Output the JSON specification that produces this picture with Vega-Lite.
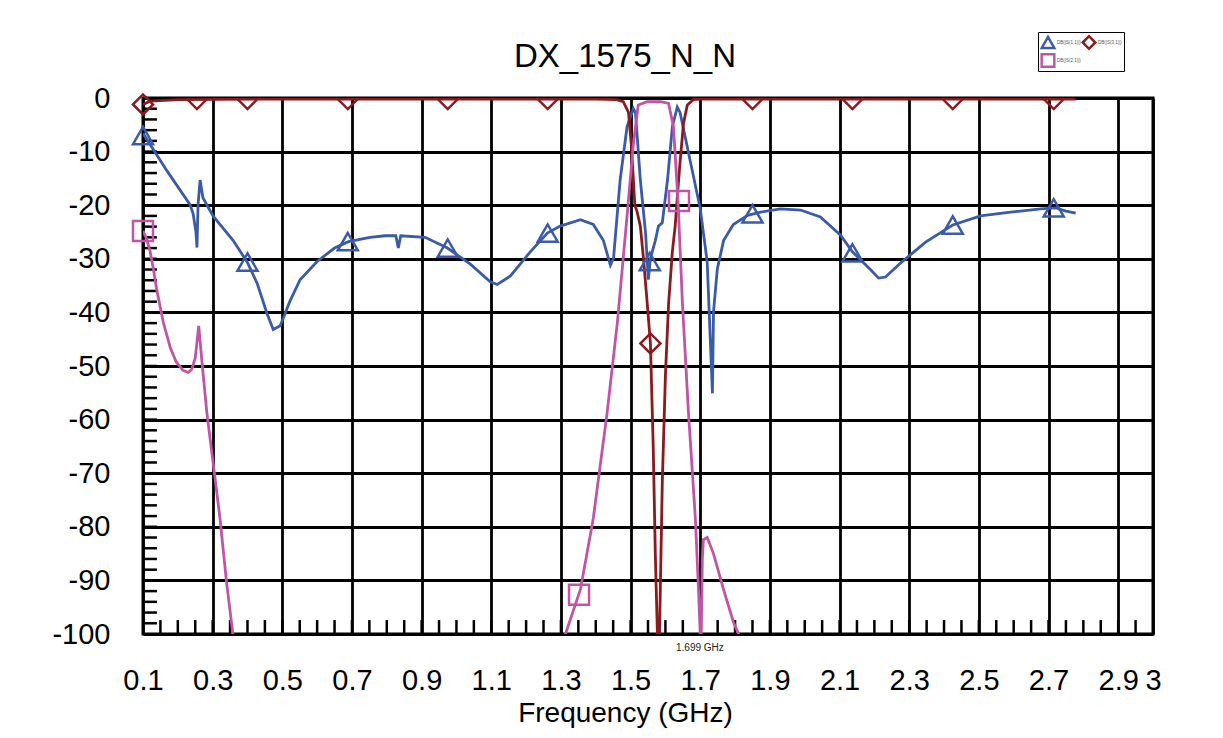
{
  "$schema": "https://vega.github.io/schema/vega-lite/v6.json",
  "autosize": {"type": "none"},
  "padding": {"left": 143, "top": 98, "right": 70, "bottom": 104},
  "width": 1010,
  "height": 536,
  "background": "white",
  "config": {
    "font": "Liberation Sans",
    "view": {"stroke": "black", "strokeWidth": 3},
    "legend": {
      "orient": "none", "legendX": 895, "legendY": -66,
      "columns": 2, "title": null, "direction": "horizontal",
      "symbolSize": 160, "symbolStrokeWidth": 2.5, "symbolFillColor": "transparent",
      "labelFontSize": 4.5, "labelColor": "#555555", "labelLineHeight": 5,
      "labelExpr": "[datum.label, 'Combine']",
      "padding": 2, "fillColor": "white", "strokeColor": "black", "strokeWidth": 1,
      "columnPadding": 0, "rowPadding": 1, "labelOffset": 1, "clipHeight": 17
    }
  },
  "title": {
    "text": "DX_1575_N_N",
    "fontSize": 33,
    "fontWeight": "normal",
    "font": "Liberation Sans",
    "color": "black",
    "anchor": "middle",
    "dx": -23,
    "offset": -42
  },
  "datasets": {
    "curves": [
      {"s": "DB(|S(1,1)|)", "f": 0.1, "db": -6.6},
      {"s": "DB(|S(1,1)|)", "f": 0.169, "db": -13.6},
      {"s": "DB(|S(1,1)|)", "f": 0.235, "db": -19.9},
      {"s": "DB(|S(1,1)|)", "f": 0.244, "db": -21.6},
      {"s": "DB(|S(1,1)|)", "f": 0.252, "db": -25},
      {"s": "DB(|S(1,1)|)", "f": 0.255, "db": -27.9},
      {"s": "DB(|S(1,1)|)", "f": 0.258, "db": -20},
      {"s": "DB(|S(1,1)|)", "f": 0.264, "db": -15.3},
      {"s": "DB(|S(1,1)|)", "f": 0.272, "db": -18.6},
      {"s": "DB(|S(1,1)|)", "f": 0.301, "db": -22},
      {"s": "DB(|S(1,1)|)", "f": 0.359, "db": -26.6},
      {"s": "DB(|S(1,1)|)", "f": 0.399, "db": -30.6},
      {"s": "DB(|S(1,1)|)", "f": 0.428, "db": -34.6},
      {"s": "DB(|S(1,1)|)", "f": 0.456, "db": -40.2},
      {"s": "DB(|S(1,1)|)", "f": 0.474, "db": -43.2},
      {"s": "DB(|S(1,1)|)", "f": 0.494, "db": -42.5},
      {"s": "DB(|S(1,1)|)", "f": 0.522, "db": -37.9},
      {"s": "DB(|S(1,1)|)", "f": 0.551, "db": -33.9},
      {"s": "DB(|S(1,1)|)", "f": 0.6, "db": -30.5},
      {"s": "DB(|S(1,1)|)", "f": 0.65, "db": -28},
      {"s": "DB(|S(1,1)|)", "f": 0.69, "db": -26.8},
      {"s": "DB(|S(1,1)|)", "f": 0.752, "db": -26},
      {"s": "DB(|S(1,1)|)", "f": 0.795, "db": -25.7},
      {"s": "DB(|S(1,1)|)", "f": 0.826, "db": -25.7},
      {"s": "DB(|S(1,1)|)", "f": 0.833, "db": -28},
      {"s": "DB(|S(1,1)|)", "f": 0.84, "db": -25.7},
      {"s": "DB(|S(1,1)|)", "f": 0.91, "db": -26},
      {"s": "DB(|S(1,1)|)", "f": 0.974, "db": -28},
      {"s": "DB(|S(1,1)|)", "f": 1.04, "db": -31},
      {"s": "DB(|S(1,1)|)", "f": 1.097, "db": -34.3},
      {"s": "DB(|S(1,1)|)", "f": 1.117, "db": -34.8},
      {"s": "DB(|S(1,1)|)", "f": 1.155, "db": -33.2},
      {"s": "DB(|S(1,1)|)", "f": 1.212, "db": -28.7},
      {"s": "DB(|S(1,1)|)", "f": 1.261, "db": -25.2},
      {"s": "DB(|S(1,1)|)", "f": 1.298, "db": -23.9},
      {"s": "DB(|S(1,1)|)", "f": 1.356, "db": -22.7},
      {"s": "DB(|S(1,1)|)", "f": 1.393, "db": -23.6},
      {"s": "DB(|S(1,1)|)", "f": 1.422, "db": -26.6},
      {"s": "DB(|S(1,1)|)", "f": 1.442, "db": -31.2},
      {"s": "DB(|S(1,1)|)", "f": 1.451, "db": -29.9},
      {"s": "DB(|S(1,1)|)", "f": 1.47, "db": -15.3},
      {"s": "DB(|S(1,1)|)", "f": 1.49, "db": -5.3},
      {"s": "DB(|S(1,1)|)", "f": 1.508, "db": -2},
      {"s": "DB(|S(1,1)|)", "f": 1.514, "db": -2.7},
      {"s": "DB(|S(1,1)|)", "f": 1.528, "db": -15.3},
      {"s": "DB(|S(1,1)|)", "f": 1.543, "db": -25.2},
      {"s": "DB(|S(1,1)|)", "f": 1.551, "db": -33.9},
      {"s": "DB(|S(1,1)|)", "f": 1.557, "db": -29.9},
      {"s": "DB(|S(1,1)|)", "f": 1.571, "db": -26.6},
      {"s": "DB(|S(1,1)|)", "f": 1.58, "db": -23.9},
      {"s": "DB(|S(1,1)|)", "f": 1.591, "db": -23.3},
      {"s": "DB(|S(1,1)|)", "f": 1.606, "db": -15.3},
      {"s": "DB(|S(1,1)|)", "f": 1.62, "db": -5.3},
      {"s": "DB(|S(1,1)|)", "f": 1.634, "db": -1.7},
      {"s": "DB(|S(1,1)|)", "f": 1.642, "db": -2.7},
      {"s": "DB(|S(1,1)|)", "f": 1.672, "db": -12},
      {"s": "DB(|S(1,1)|)", "f": 1.7, "db": -20.6},
      {"s": "DB(|S(1,1)|)", "f": 1.72, "db": -30.6},
      {"s": "DB(|S(1,1)|)", "f": 1.735, "db": -55.1},
      {"s": "DB(|S(1,1)|)", "f": 1.738, "db": -40},
      {"s": "DB(|S(1,1)|)", "f": 1.749, "db": -31.9},
      {"s": "DB(|S(1,1)|)", "f": 1.767, "db": -26.6},
      {"s": "DB(|S(1,1)|)", "f": 1.795, "db": -23.6},
      {"s": "DB(|S(1,1)|)", "f": 1.836, "db": -21.9},
      {"s": "DB(|S(1,1)|)", "f": 1.873, "db": -21.3},
      {"s": "DB(|S(1,1)|)", "f": 1.93, "db": -20.7},
      {"s": "DB(|S(1,1)|)", "f": 1.988, "db": -20.9},
      {"s": "DB(|S(1,1)|)", "f": 2.045, "db": -22.2},
      {"s": "DB(|S(1,1)|)", "f": 2.103, "db": -25.6},
      {"s": "DB(|S(1,1)|)", "f": 2.137, "db": -28.7},
      {"s": "DB(|S(1,1)|)", "f": 2.19, "db": -32.1},
      {"s": "DB(|S(1,1)|)", "f": 2.212, "db": -33.6},
      {"s": "DB(|S(1,1)|)", "f": 2.232, "db": -33.4},
      {"s": "DB(|S(1,1)|)", "f": 2.275, "db": -30.8},
      {"s": "DB(|S(1,1)|)", "f": 2.347, "db": -26.9},
      {"s": "DB(|S(1,1)|)", "f": 2.425, "db": -23.7},
      {"s": "DB(|S(1,1)|)", "f": 2.505, "db": -22},
      {"s": "DB(|S(1,1)|)", "f": 2.591, "db": -21.3},
      {"s": "DB(|S(1,1)|)", "f": 2.678, "db": -20.7},
      {"s": "DB(|S(1,1)|)", "f": 2.721, "db": -20.5},
      {"s": "DB(|S(1,1)|)", "f": 2.75, "db": -21.1},
      {"s": "DB(|S(1,1)|)", "f": 2.778, "db": -21.5},

      {"s": "DB(|S(3,1)|)", "f": 0.1, "db": -1.2},
      {"s": "DB(|S(3,1)|)", "f": 0.12, "db": -0.6},
      {"s": "DB(|S(3,1)|)", "f": 0.2, "db": -0.3},
      {"s": "DB(|S(3,1)|)", "f": 0.5, "db": -0.2},
      {"s": "DB(|S(3,1)|)", "f": 1.0, "db": -0.2},
      {"s": "DB(|S(3,1)|)", "f": 1.4, "db": -0.2},
      {"s": "DB(|S(3,1)|)", "f": 1.46, "db": -0.3},
      {"s": "DB(|S(3,1)|)", "f": 1.479, "db": -0.7},
      {"s": "DB(|S(3,1)|)", "f": 1.494, "db": -2.7},
      {"s": "DB(|S(3,1)|)", "f": 1.502, "db": -8.6},
      {"s": "DB(|S(3,1)|)", "f": 1.508, "db": -15.3},
      {"s": "DB(|S(3,1)|)", "f": 1.512, "db": -19.9},
      {"s": "DB(|S(3,1)|)", "f": 1.519, "db": -21.3},
      {"s": "DB(|S(3,1)|)", "f": 1.528, "db": -23.9},
      {"s": "DB(|S(3,1)|)", "f": 1.537, "db": -29.9},
      {"s": "DB(|S(3,1)|)", "f": 1.548, "db": -38.5},
      {"s": "DB(|S(3,1)|)", "f": 1.557, "db": -45.8},
      {"s": "DB(|S(3,1)|)", "f": 1.565, "db": -65.1},
      {"s": "DB(|S(3,1)|)", "f": 1.571, "db": -85},
      {"s": "DB(|S(3,1)|)", "f": 1.577, "db": -100},
      {"s": "DB(|S(3,1)|)", "f": 1.58, "db": -130},
      {"s": "DB(|S(3,1)|)", "f": 1.583, "db": -100},
      {"s": "DB(|S(3,1)|)", "f": 1.591, "db": -71.8},
      {"s": "DB(|S(3,1)|)", "f": 1.6, "db": -51.8},
      {"s": "DB(|S(3,1)|)", "f": 1.609, "db": -38.5},
      {"s": "DB(|S(3,1)|)", "f": 1.62, "db": -28.6},
      {"s": "DB(|S(3,1)|)", "f": 1.628, "db": -23.9},
      {"s": "DB(|S(3,1)|)", "f": 1.634, "db": -18.6},
      {"s": "DB(|S(3,1)|)", "f": 1.642, "db": -12},
      {"s": "DB(|S(3,1)|)", "f": 1.652, "db": -4.7},
      {"s": "DB(|S(3,1)|)", "f": 1.663, "db": -1.3},
      {"s": "DB(|S(3,1)|)", "f": 1.68, "db": -0.3},
      {"s": "DB(|S(3,1)|)", "f": 1.7, "db": -0.2},
      {"s": "DB(|S(3,1)|)", "f": 2.0, "db": -0.2},
      {"s": "DB(|S(3,1)|)", "f": 2.778, "db": -0.2},

      {"s": "DB(|S(2,1)|)", "f": 0.1, "db": -24.8},
      {"s": "DB(|S(2,1)|)", "f": 0.11, "db": -26.2},
      {"s": "DB(|S(2,1)|)", "f": 0.12, "db": -28.5},
      {"s": "DB(|S(2,1)|)", "f": 0.13, "db": -32},
      {"s": "DB(|S(2,1)|)", "f": 0.139, "db": -35.6},
      {"s": "DB(|S(2,1)|)", "f": 0.158, "db": -41.8},
      {"s": "DB(|S(2,1)|)", "f": 0.178, "db": -46.5},
      {"s": "DB(|S(2,1)|)", "f": 0.195, "db": -49.2},
      {"s": "DB(|S(2,1)|)", "f": 0.215, "db": -50.8},
      {"s": "DB(|S(2,1)|)", "f": 0.23, "db": -51.2},
      {"s": "DB(|S(2,1)|)", "f": 0.24, "db": -50.6},
      {"s": "DB(|S(2,1)|)", "f": 0.25, "db": -48.5},
      {"s": "DB(|S(2,1)|)", "f": 0.26, "db": -42.5},
      {"s": "DB(|S(2,1)|)", "f": 0.269, "db": -49},
      {"s": "DB(|S(2,1)|)", "f": 0.283, "db": -58.5},
      {"s": "DB(|S(2,1)|)", "f": 0.302, "db": -68.4},
      {"s": "DB(|S(2,1)|)", "f": 0.321, "db": -78.4},
      {"s": "DB(|S(2,1)|)", "f": 0.34, "db": -90.4},
      {"s": "DB(|S(2,1)|)", "f": 0.358, "db": -100},
      {"s": "DB(|S(2,1)|)", "f": 0.4, "db": -125},
      {"s": "DB(|S(2,1)|)", "f": 0.8, "db": -160},
      {"s": "DB(|S(2,1)|)", "f": 1.28, "db": -125},
      {"s": "DB(|S(2,1)|)", "f": 1.313, "db": -100},
      {"s": "DB(|S(2,1)|)", "f": 1.356, "db": -91.7},
      {"s": "DB(|S(2,1)|)", "f": 1.393, "db": -78.4},
      {"s": "DB(|S(2,1)|)", "f": 1.433, "db": -58.5},
      {"s": "DB(|S(2,1)|)", "f": 1.462, "db": -41.9},
      {"s": "DB(|S(2,1)|)", "f": 1.49, "db": -21.9},
      {"s": "DB(|S(2,1)|)", "f": 1.508, "db": -8.6},
      {"s": "DB(|S(2,1)|)", "f": 1.522, "db": -1.3},
      {"s": "DB(|S(2,1)|)", "f": 1.548, "db": -0.7},
      {"s": "DB(|S(2,1)|)", "f": 1.586, "db": -0.7},
      {"s": "DB(|S(2,1)|)", "f": 1.609, "db": -1},
      {"s": "DB(|S(2,1)|)", "f": 1.623, "db": -5.3},
      {"s": "DB(|S(2,1)|)", "f": 1.636, "db": -19},
      {"s": "DB(|S(2,1)|)", "f": 1.649, "db": -38.5},
      {"s": "DB(|S(2,1)|)", "f": 1.666, "db": -58.5},
      {"s": "DB(|S(2,1)|)", "f": 1.686, "db": -78.4},
      {"s": "DB(|S(2,1)|)", "f": 1.695, "db": -91.7},
      {"s": "DB(|S(2,1)|)", "f": 1.7, "db": -100},
      {"s": "DB(|S(2,1)|)", "f": 1.702, "db": -104},
      {"s": "DB(|S(2,1)|)", "f": 1.706, "db": -86},
      {"s": "DB(|S(2,1)|)", "f": 1.709, "db": -82.4},
      {"s": "DB(|S(2,1)|)", "f": 1.72, "db": -82},
      {"s": "DB(|S(2,1)|)", "f": 1.738, "db": -85},
      {"s": "DB(|S(2,1)|)", "f": 1.767, "db": -91.7},
      {"s": "DB(|S(2,1)|)", "f": 1.795, "db": -97.7},
      {"s": "DB(|S(2,1)|)", "f": 1.81, "db": -100},
      {"s": "DB(|S(2,1)|)", "f": 1.85, "db": -115},
      {"s": "DB(|S(2,1)|)", "f": 2.3, "db": -150},
      {"s": "DB(|S(2,1)|)", "f": 2.778, "db": -150}
    ],
    "markers": [
      {"s": "DB(|S(1,1)|)", "f": 0.1, "db": -7},
      {"s": "DB(|S(1,1)|)", "f": 0.4, "db": -30.6},
      {"s": "DB(|S(1,1)|)", "f": 0.688, "db": -26.8},
      {"s": "DB(|S(1,1)|)", "f": 0.975, "db": -28},
      {"s": "DB(|S(1,1)|)", "f": 1.262, "db": -25.2},
      {"s": "DB(|S(1,1)|)", "f": 1.555, "db": -30.5},
      {"s": "DB(|S(1,1)|)", "f": 1.85, "db": -21.6},
      {"s": "DB(|S(1,1)|)", "f": 2.137, "db": -28.9},
      {"s": "DB(|S(1,1)|)", "f": 2.425, "db": -23.7},
      {"s": "DB(|S(1,1)|)", "f": 2.715, "db": -20.5},
      {"s": "DB(|S(3,1)|)", "f": 0.1, "db": -1.2},
      {"s": "DB(|S(3,1)|)", "f": 0.255, "db": -0.2},
      {"s": "DB(|S(3,1)|)", "f": 0.4, "db": -0.2},
      {"s": "DB(|S(3,1)|)", "f": 0.688, "db": -0.2},
      {"s": "DB(|S(3,1)|)", "f": 0.975, "db": -0.2},
      {"s": "DB(|S(3,1)|)", "f": 1.262, "db": -0.2},
      {"s": "DB(|S(3,1)|)", "f": 1.557, "db": -45.8},
      {"s": "DB(|S(3,1)|)", "f": 1.85, "db": -0.2},
      {"s": "DB(|S(3,1)|)", "f": 2.137, "db": -0.2},
      {"s": "DB(|S(3,1)|)", "f": 2.425, "db": -0.2},
      {"s": "DB(|S(3,1)|)", "f": 2.715, "db": -0.2},
      {"s": "DB(|S(2,1)|)", "f": 0.1, "db": -24.8},
      {"s": "DB(|S(2,1)|)", "f": 1.352, "db": -92.7},
      {"s": "DB(|S(2,1)|)", "f": 1.639, "db": -19.2}
    ],
    "xminor": [
      {"f": 0.15}, {"f": 0.2}, {"f": 0.25}, {"f": 0.3}, {"f": 0.35}, {"f": 0.4}, {"f": 0.45}, {"f": 0.5},
      {"f": 0.55}, {"f": 0.6}, {"f": 0.65}, {"f": 0.7}, {"f": 0.75}, {"f": 0.8}, {"f": 0.85}, {"f": 0.9},
      {"f": 0.95}, {"f": 1.0}, {"f": 1.05}, {"f": 1.1}, {"f": 1.15}, {"f": 1.2}, {"f": 1.25}, {"f": 1.3},
      {"f": 1.35}, {"f": 1.4}, {"f": 1.45}, {"f": 1.5}, {"f": 1.55}, {"f": 1.6}, {"f": 1.65}, {"f": 1.7},
      {"f": 1.75}, {"f": 1.8}, {"f": 1.85}, {"f": 1.9}, {"f": 1.95}, {"f": 2.0}, {"f": 2.05}, {"f": 2.1},
      {"f": 2.15}, {"f": 2.2}, {"f": 2.25}, {"f": 2.3}, {"f": 2.35}, {"f": 2.4}, {"f": 2.45}, {"f": 2.5},
      {"f": 2.55}, {"f": 2.6}, {"f": 2.65}, {"f": 2.7}, {"f": 2.75}, {"f": 2.8}, {"f": 2.85}, {"f": 2.9},
      {"f": 2.95}
    ],
    "yminor": [
      {"v": -98}, {"v": -96}, {"v": -94}, {"v": -92}, {"v": -90}, {"v": -88}, {"v": -86}, {"v": -84},
      {"v": -82}, {"v": -80}, {"v": -78}, {"v": -76}, {"v": -74}, {"v": -72}, {"v": -70}, {"v": -68},
      {"v": -66}, {"v": -64}, {"v": -62}, {"v": -60}, {"v": -58}, {"v": -56}, {"v": -54}, {"v": -52},
      {"v": -50}, {"v": -48}, {"v": -46}, {"v": -44}, {"v": -42}, {"v": -40}, {"v": -38}, {"v": -36},
      {"v": -34}, {"v": -32}, {"v": -30}, {"v": -28}, {"v": -26}, {"v": -24}, {"v": -22}, {"v": -20},
      {"v": -18}, {"v": -16}, {"v": -14}, {"v": -12}, {"v": -10}, {"v": -8}, {"v": -6}, {"v": -4},
      {"v": -2}
    ],
    "annot": [{"f": 1.699, "label": "1.699 GHz"}]
  },
  "layer": [
    {
      "data": {"name": "xminor"},
      "mark": {"type": "rule", "color": "black", "strokeWidth": 2.5},
      "encoding": {
        "x": {"field": "f", "type": "quantitative",
              "scale": {"domain": [0.1, 3], "nice": false, "zero": false},
              "axis": {
                "values": [0.1, 0.3, 0.5, 0.7, 0.9, 1.1, 1.3, 1.5, 1.7, 1.9, 2.1, 2.3, 2.5, 2.7, 2.9, 3],
                "labelExpr": "datum.value == 3 ? '3' : format(datum.value, '.1f')",
                "labelFontSize": 29, "labelColor": "black", "labelPadding": 32,
                "labelOverlap": false, "labelFlush": false,
                "ticks": false, "domain": false,
                "grid": true, "gridColor": "black", "gridWidth": 2.8, "gridOpacity": 1,
                "title": "Frequency (GHz)", "titleFontSize": 28, "titleFontWeight": "normal",
                "titleColor": "black", "titlePadding": 4, "titleX": 482
              }},
        "y": {"datum": -100, "type": "quantitative",
              "scale": {"domain": [-100, 0], "nice": false, "zero": false},
              "axis": {
                "values": [-100, -90, -80, -70, -60, -50, -40, -30, -20, -10, 0],
                "labelExpr": "'' + datum.value",
                "labelFontSize": 29, "labelColor": "black", "labelPadding": 33,
                "ticks": false, "domain": false,
                "grid": true, "gridColor": "black", "gridWidth": 2.8, "gridOpacity": 1,
                "title": null
              }},
        "y2": {"datum": -97.4}
      }
    },
    {
      "data": {"name": "yminor"},
      "mark": {"type": "rule", "color": "black", "strokeWidth": 2.5},
      "encoding": {
        "y": {"field": "v", "type": "quantitative"},
        "x": {"datum": 0.1, "type": "quantitative"},
        "x2": {"datum": 0.14}
      }
    },
    {
      "data": {"name": "curves"},
      "mark": {"type": "line", "clip": true, "strokeWidth": 2.8},
      "encoding": {
        "x": {"field": "f", "type": "quantitative"},
        "y": {"field": "db", "type": "quantitative"},
        "color": {"field": "s", "type": "nominal",
                  "scale": {"domain": ["DB(|S(1,1)|)", "DB(|S(3,1)|)", "DB(|S(2,1)|)"],
                            "range": ["#3A5BAA", "#8B1A1F", "#C254A6"]}}
      }
    },
    {
      "data": {"name": "markers"},
      "transform": [{"filter": "datum.db < -0.5"}],
      "mark": {"type": "point", "filled": false, "strokeWidth": 2.5, "size": 400, "opacity": 1},
      "encoding": {
        "x": {"field": "f", "type": "quantitative"},
        "y": {"field": "db", "type": "quantitative"},
        "color": {"field": "s", "type": "nominal"},
        "shape": {"field": "s", "type": "nominal",
                  "scale": {"domain": ["DB(|S(1,1)|)", "DB(|S(3,1)|)", "DB(|S(2,1)|)"],
                            "range": ["triangle-up", "diamond", "square"]}}
      }
    },
    {
      "data": {"name": "markers"},
      "transform": [{"filter": "datum.db >= -0.5"}],
      "mark": {"type": "point", "filled": false, "strokeWidth": 2.5, "size": 400, "opacity": 1, "clip": true},
      "encoding": {
        "x": {"field": "f", "type": "quantitative"},
        "y": {"field": "db", "type": "quantitative"},
        "color": {"field": "s", "type": "nominal"},
        "shape": {"field": "s", "type": "nominal"}
      }
    },
    {
      "data": {"name": "annot"},
      "mark": {"type": "text", "fontSize": 10, "color": "#222222", "dy": 14, "baseline": "middle", "align": "center"},
      "encoding": {
        "x": {"field": "f", "type": "quantitative"},
        "y": {"datum": -100, "type": "quantitative"},
        "text": {"field": "label"}
      }
    }
  ]
}
